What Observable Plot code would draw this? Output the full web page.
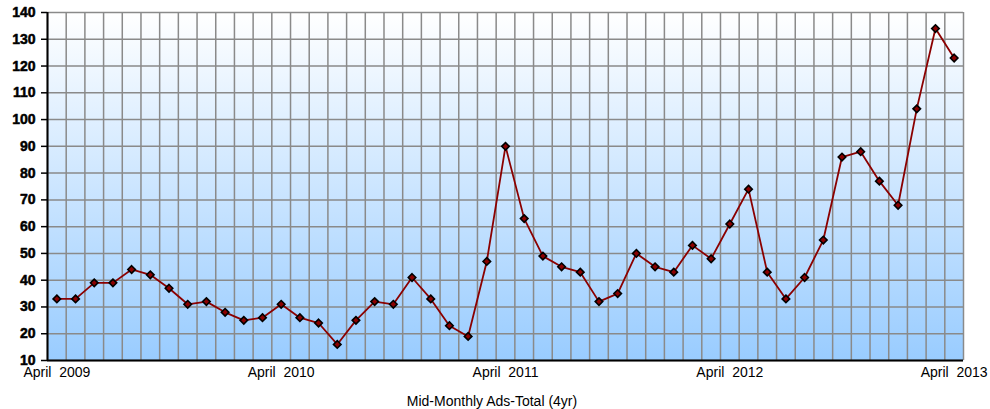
<!DOCTYPE html>
<html><head><meta charset="utf-8">
<script src="https://cdn.jsdelivr.net/npm/d3@7"></script>
<script src="https://cdn.jsdelivr.net/npm/@observablehq/plot@0.6"></script>
<style>
body{margin:0;background:#fff;font-family:"Liberation Sans",Arial,sans-serif;}
svg text{white-space:pre;}
.ylab, .ylab text{font-weight:700 !important;font-family:"Liberation Sans",Arial,sans-serif;}
#caption{text-align:center;font-size:14px;line-height:16px;margin-top:8px;color:#000;width:984px;}
</style></head><body>
<div id="chart"></div>
<div id="caption">Mid-Monthly Ads-Total (4yr)</div>
<script>
// Monthly values, April 2009 .. April 2013 (49 months)
const values = [33,33,39,39,44,42,37,31,32,28,25,26,31,26,24,16,25,32,31,41,33,23,19,47,90,63,49,45,43,32,35,50,45,43,53,48,61,74,43,33,41,55,86,88,77,68,104,134,123];
const tickMonths = [0,12,24,36,48];
const tickLabels = ["April  2009","April  2010","April  2011","April  2012","April  2013"];
const yTicks = [10,20,30,40,50,60,70,80,90,100,110,120,130,140];

const data = values.map((v,i)=>({m:i, v}));
const gridX = d3.range(values.length + 1).map(i => i - 0.5);

const chart = Plot.plot({
  width: 990, height: 385,
  marginLeft: 47, marginRight: 27, marginTop: 12, marginBottom: 25,
  style: {fontFamily: '"Liberation Sans",Arial,sans-serif', background: "transparent", color: "#000"},
  x: {domain: [-0.5, values.length - 0.5], axis: null},
  y: {domain: [10, 140], axis: null},
  marks: [
    Plot.frame({fill: "url(#bgGrad)", stroke: "none"}),
    Plot.ruleX(gridX, {stroke: "#8a8a8a", strokeWidth: 1.5}),
    Plot.ruleY(yTicks, {stroke: "#8a8a8a", strokeWidth: 1.5}),
    Plot.ruleX([-0.5], {stroke: "#000", strokeWidth: 2}),
    Plot.ruleY([10], {stroke: "#000", strokeWidth: 2}),
    Plot.axisY(yTicks, {label: null, tickSize: 6, tickFormat: () => "", stroke: "#000", strokeWidth: 1.5}),
    Plot.text(yTicks, {y: d => d, frameAnchor: "left", text: d => String(d), textAnchor: "end", dx: -12, fontSize: 14, fontWeight: "bold", fill: "#000", stroke: "#000", strokeWidth: 0.5, className: "ylab"}),
    Plot.axisX(tickMonths, {label: null, tickSize: 0, tickPadding: 7, fontSize: 14, tickFormat: (d,i) => tickLabels[i]}),
    Plot.line(data, {x: "m", y: "v", stroke: "#8b0000", strokeWidth: 1.8}),
    Plot.dot(data, {x: "m", y: "v", symbol: "diamond2", r: 3.4, fill: "#8b0000", stroke: "#000", strokeWidth: 1.6})
  ]
});

const svg = d3.select(chart);
const defs = svg.insert("defs", ":first-child");
const g = defs.append("linearGradient").attr("id","bgGrad").attr("x1",0).attr("y1",0).attr("x2",0).attr("y2",1);
g.append("stop").attr("offset","0%").attr("stop-color","#ffffff");
g.append("stop").attr("offset","100%").attr("stop-color","#99ccff");
document.getElementById("chart").appendChild(chart);
</script>
</body></html>
